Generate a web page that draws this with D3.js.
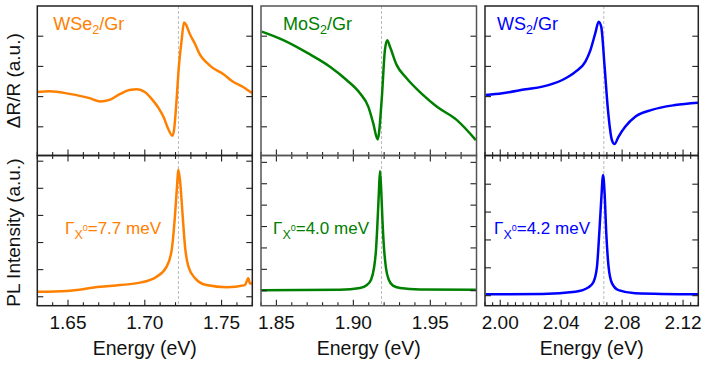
<!DOCTYPE html>
<html><head><meta charset="utf-8">
<script src="https://cdn.jsdelivr.net/npm/d3@7"></script>
<style>body{margin:0;background:#fff}svg{display:block}text{font-family:"Liberation Sans",Arial,sans-serif}</style>
</head><body>
<svg id="c" width="705" height="366"></svg>
<script>
// ---- data (energy in eV, signal in arbitrary units) ----
const materials = ["WSe2/Gr", "MoS2/Gr", "WS2/Gr"];
const colors = ["#ff8000", "#008000", "#0000ff"];
const xDomains = [[1.63, 1.77], [1.84, 1.98], [1.99, 2.13]];
const majorTicks = [[1.65, 1.70, 1.75], [1.85, 1.90, 1.95], [2.00, 2.04, 2.08, 2.12]];
const minorStep = [0.01, 0.01, 0.005];
const tickFormat = [".2f", ".2f", ".2f"];
const peakE = [1.7219, 1.9183, 2.0680];
const widths = ["7.7", "4.0", "4.2"];

const wse2RefE = [1.630,1.638,1.651,1.664,1.671,1.677,1.684,1.690,1.695,1.700,1.705,1.709,1.7125,1.715,1.718,1.719,1.7207,1.722,1.724,1.7255,1.727,1.729,1.733,1.736,1.740,1.744,1.751,1.757,1.764,1.7697];
const wse2RefV = [0.15,0.18,0.09,-0.05,-0.16,-0.11,0.09,0.22,0.24,0.15,-0.11,-0.38,-0.71,-1.04,-1.30,-1.12,-0.11,0.88,1.87,2.45,2.37,2.11,1.71,1.38,1.14,0.96,0.75,0.51,0.32,0.12];
const wse2PlE = [1.630,1.649,1.6708,1.6838,1.6969,1.7077,1.7142,1.7175,1.7196,1.7211,1.7218,1.7229,1.7247,1.7262,1.7284,1.7328,1.7403,1.7533,1.7652,1.7674,1.7685,1.7698];
const wse2PlV = [0.18,0.21,0.37,0.43,0.52,0.74,1.11,1.72,2.95,4.18,4.68,4.31,2.95,1.85,1.11,0.68,0.43,0.35,0.43,0.68,0.49,0.50];

const mos2RefE = [1.8405,1.8545,1.8707,1.8848,1.8956,1.9043,1.9097,1.9129,1.9158,1.9184,1.9205,1.9220,1.9238,1.9281,1.9346,1.9454,1.9541,1.9671,1.9796];
const mos2RefV = [2.15,1.87,1.43,0.99,0.55,0.11,-0.33,-0.88,-1.42,-0.11,1.54,1.87,1.65,1.05,0.61,0.05,-0.33,-0.77,-1.44];
const mos2PlE = [1.840,1.8913,1.9043,1.9088,1.9114,1.9134,1.9147,1.9156,1.9165,1.9173,1.9181,1.9189,1.9199,1.9212,1.9231,1.9257,1.9303,1.9432,1.9796];
const mos2PlV = [0.02,0.05,0.13,0.27,0.50,1.06,1.90,3.07,4.47,5.59,4.70,3.30,2.00,1.06,0.50,0.24,0.13,0.06,0.05];

const ws2RefE = [1.9905,2.0014,2.0167,2.0276,2.0407,2.0493,2.0559,2.0592,2.0624,2.0646,2.0663,2.0685,2.0707,2.0733,2.0750,2.0776,2.0820,2.0886,2.0995,2.1147,2.1299];
const ws2RefV = [0.05,0.11,0.24,0.33,0.55,0.82,1.16,1.54,2.10,2.48,2.31,0.99,-0.44,-1.44,-1.57,-1.33,-1.00,-0.67,-0.44,-0.28,-0.20];
const ws2PlE = [1.9905,2.0276,2.0493,2.0580,2.0613,2.0635,2.0650,2.0663,2.0675,2.0685,2.0696,2.0711,2.0733,2.0776,2.0886,2.1299];
const ws2PlV = [0.05,0.06,0.14,0.30,0.50,1.04,2.24,3.44,4.33,3.68,2.24,1.04,0.45,0.20,0.09,0.05];

const refTicks = [-1, 0, 1, 2];
const plTicks = [[0,1,2,3,4,5],[0,1,2,3,4,5,6],[0,1,2,3,4]];
const refDomain = [-1.95, 3.0];
const plDomains = [[-0.33, 5.21], [-0.70, 6.32], [-0.36, 5.03]];

const refE = [wse2RefE, mos2RefE, ws2RefE], refV = [wse2RefV, mos2RefV, ws2RefV];
const plE = [wse2PlE, mos2PlE, ws2PlE], plV = [wse2PlV, mos2PlV, ws2PlV];

// ---- layout ----
const panelX = [[37.3, 252.3], [261, 476.5], [485, 698.3]];
const yTop = 6, yMid = 155.5, yBot = 305.7;
const frame = "#222";

const svg = d3.select("#c");

materials.forEach((m, i) => {
  const x = d3.scaleLinear().domain(xDomains[i]).range(panelX[i]);
  const yR = d3.scaleLinear().domain(refDomain).range([yMid, yTop]);
  const yP = d3.scaleLinear().domain(plDomains[i]).range([yBot, yMid]);
  const g = svg.append("g");
  const [x0, x1] = panelX[i];
  const clipId = "clip" + i;
  const cp = svg.append("defs").append("clipPath").attr("id", clipId);
  cp.append("rect").attr("x", x0).attr("y", yTop).attr("width", x1 - x0).attr("height", yBot - yTop);

  // dashed line
  g.append("line").attr("x1", x(peakE[i])).attr("x2", x(peakE[i]))
    .attr("y1", yTop).attr("y2", yBot)
    .attr("stroke", "#bbb").attr("stroke-width", 1).attr("stroke-dasharray", "3,2");

  const line = d3.line().curve(d3.curveMonotoneX);
  g.append("path").attr("clip-path", `url(#${clipId})`)
    .attr("d", line(refE[i].map((e, k) => [x(e), yR(refV[i][k])])))
    .attr("fill", "none").attr("stroke", colors[i]).attr("stroke-width", 2.5).attr("stroke-linejoin", "round");
  g.append("path").attr("clip-path", `url(#${clipId})`)
    .attr("d", line(plE[i].map((e, k) => [x(e), yP(plV[i][k])])))
    .attr("fill", "none").attr("stroke", colors[i]).attr("stroke-width", 2.5).attr("stroke-linejoin", "round");

  // x ticks
  const minors = d3.range(Math.ceil(xDomains[i][0] / minorStep[i] - 1e-6), Math.floor(xDomains[i][1] / minorStep[i] + 1e-6) + 1)
    .map(k => +(k * minorStep[i]).toFixed(4))
    .filter(v => !majorTicks[i].some(t => Math.abs(t - v) < 1e-6));
  const tk = g.append("g").attr("stroke", frame).attr("stroke-width", 1.1);
  [[yMid, -1], [yMid, 1], [yBot, -1]].forEach(([yy, dir]) => {
    majorTicks[i].forEach(t => tk.append("line").attr("x1", x(t)).attr("x2", x(t)).attr("y1", yy).attr("y2", yy + dir * 6));
    minors.forEach(t => tk.append("line").attr("x1", x(t)).attr("x2", x(t)).attr("y1", yy).attr("y2", yy + dir * 3.5));
  });
  // y ticks
  [[x0, 1], [x1, -1]].forEach(([xx, dir]) => {
    refTicks.forEach(t => tk.append("line").attr("x1", xx).attr("x2", xx + dir * 6).attr("y1", yR(t)).attr("y2", yR(t)));
    plTicks[i].forEach(t => tk.append("line").attr("x1", xx).attr("x2", xx + dir * 6).attr("y1", yP(t)).attr("y2", yP(t)));
  });

  // frames
  g.append("rect").attr("x", x0).attr("y", yTop).attr("width", x1 - x0).attr("height", yMid - yTop)
    .attr("fill", "none").attr("stroke", i === 1 ? "#555" : frame).attr("stroke-width", 1.5);
  g.append("rect").attr("x", x0).attr("y", yMid).attr("width", x1 - x0).attr("height", yBot - yMid)
    .attr("fill", "none").attr("stroke", i === 1 ? "#555" : frame).attr("stroke-width", 1.5);

  // tick labels
  majorTicks[i].forEach(t => g.append("text").attr("x", x(t)).attr("y", 328.5)
    .attr("text-anchor", "middle").attr("font-size", 19).attr("fill", "#111").text(d3.format(tickFormat[i])(t)));
  g.append("text").attr("x", (x0 + x1) / 2).attr("y", 355).attr("text-anchor", "middle")
    .attr("font-size", 19.5).attr("fill", "#111").text("Energy (eV)");

  // title
  const parts = m.split("2");
  const tt = g.append("text").attr("x", x0 + [16, 22, 12][i]).attr("y", 30).attr("font-size", 18).attr("fill", colors[i]);
  tt.append("tspan").text(parts[0]);
  tt.append("tspan").attr("font-size", 12.5).attr("dy", 4).text("2");
  tt.append("tspan").attr("dy", -4).text(parts[1]);

  // linewidth label
  const lx = [65, 273, 494][i];
  const lt = g.append("text").attr("x", lx).attr("y", 234).attr("font-size", 17).attr("fill", colors[i]);
  lt.append("tspan").text("Γ");
  lt.append("tspan").attr("font-size", 12.5).attr("dy", 5).text("X");
  lt.append("tspan").attr("font-size", 9).attr("dy", -8).text("0");
  lt.append("tspan").attr("dy", 3).text("=" + widths[i] + " meV");
});

// y-axis titles
svg.append("text").attr("transform", `translate(19.5,${(yTop + yMid) / 2}) rotate(-90)`)
  .attr("text-anchor", "middle").attr("font-size", 19).attr("fill", "#111").text("ΔR/R (a.u.)");
svg.append("text").attr("transform", `translate(19.5,${(yMid + yBot) / 2 + 2}) rotate(-90)`)
  .attr("text-anchor", "middle").attr("font-size", 19).attr("fill", "#111").text("PL Intensity (a.u.)");
</script>
</body></html>
